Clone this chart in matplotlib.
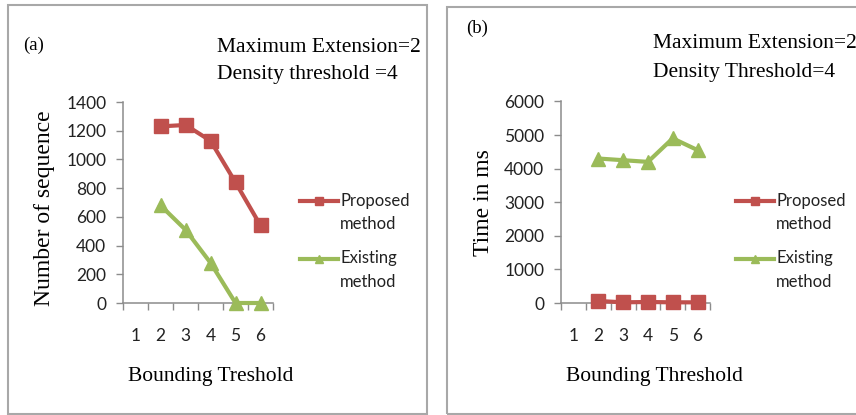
import numpy as np
import matplotlib
matplotlib.use("Agg")
import matplotlib.pyplot as plt
from matplotlib.patches import Rectangle
from matplotlib.legend_handler import HandlerLine2D
from matplotlib.lines import Line2D

# ---------------- data ----------------
categories = ["1", "2", "3", "4", "5", "6"]
seq_proposed = [np.nan, 1230, 1240, 1130, 840, 540]
seq_existing = [np.nan, 680, 510, 280, 0, 0]
time_proposed = [np.nan, 60, 20, 30, 20, 20]
time_existing = [np.nan, 4300, 4250, 4200, 4900, 4550]
yticks_a = [0, 200, 400, 600, 800, 1000, 1200, 1400]
yticks_b = [0, 1000, 2000, 3000, 4000, 5000, 6000]
series_labels = ["Proposed\nmethod", "Existing\nmethod"]

RED = "#C0504D"
GREEN = "#9BBB59"
AXGRAY = "#8C8C8C"
SERIF = ["Liberation Serif", "DejaVu Serif"]
SANS = ["Lato", "DejaVu Sans"]

W, H = 856, 415
fig = plt.figure(figsize=(W / 100, H / 100), dpi=100)


def fx(x):
    return x / W


def fy(y):
    return 1 - y / H


class FirstLineHandler(HandlerLine2D):
    def __init__(self, shift, **kw):
        super().__init__(**kw)
        self.shift = shift

    def create_artists(self, legend, orig_handle, xdescent, ydescent,
                       width, height, fontsize, trans):
        arts = super().create_artists(legend, orig_handle, xdescent, ydescent,
                                      width, height, fontsize, trans)
        for a in arts:
            a.set_ydata(np.asarray(a.get_ydata(), float) + self.shift * fontsize)
        return arts


def style_axes(ax, ymax, yticks):
    x = np.arange(1, len(categories) + 1)
    ax.set_xlim(0.5, len(categories) + 0.5)
    ax.set_ylim(0, ymax)
    ax.set_xticks(x)
    ax.set_xticklabels(categories, fontfamily=SANS, fontsize=12.5, color="#222222")
    ax.set_xticks(np.arange(0.5, len(categories) + 1, 1), minor=True)
    ax.tick_params(axis="x", which="major", length=0, pad=18)
    ax.tick_params(axis="x", which="minor", length=5, width=1, color=AXGRAY, direction="out")
    ax.set_yticks(yticks)
    ax.set_yticklabels([str(v) for v in yticks], fontfamily=SANS, fontsize=12.5, color="#222222")
    ax.tick_params(axis="y", length=5, width=1, color=AXGRAY, direction="out", pad=7)
    for s in ["top", "right"]:
        ax.spines[s].set_visible(False)
    for s in ["left", "bottom"]:
        ax.spines[s].set_color(AXGRAY)
        ax.spines[s].set_linewidth(1.1)
    ax.patch.set_alpha(0)
    return x


def add_legend(ax, x_left, y_top, p_line, e_line):
    leg = ax.legend([p_line, e_line], series_labels, loc="upper left",
                    bbox_to_anchor=(fx(x_left), fy(y_top)),
                    bbox_transform=fig.transFigure, frameon=False,
                    borderpad=0, borderaxespad=0, handlelength=2.3,
                    handletextpad=0.1, labelspacing=1.1, markerscale=0.6,
                    prop={"family": SANS, "size": 12},
                    handler_map={Line2D: FirstLineHandler(0.72)})
    for t in leg.get_texts():
        t.set_linespacing(1.55)
        t.set_color("#222222")
    return leg


# ---------------- panel (a) ----------------
ax_a = fig.add_axes([fx(123), fy(303), 150 / W, 201 / H])
xa = style_axes(ax_a, 1400, yticks_a)
pa, = ax_a.plot(xa, seq_proposed, color=RED, lw=3, marker="s", ms=10,
                clip_on=False, zorder=3)
ea, = ax_a.plot(xa, seq_existing, color=GREEN, lw=3, marker="^", ms=10,
                clip_on=False, zorder=3)
add_legend(ax_a, 300, 193, pa, ea)

# ---------------- panel (b) ----------------
ax_b = fig.add_axes([fx(561), fy(303), 149 / W, 201.6 / H])
xb = style_axes(ax_b, 6000, yticks_b)
pb, = ax_b.plot(xb, time_proposed, color=RED, lw=3, marker="s", ms=10,
                clip_on=False, zorder=3)
eb, = ax_b.plot(xb, time_existing, color=GREEN, lw=3, marker="^", ms=10,
                clip_on=False, zorder=3)
add_legend(ax_b, 736, 193, pb, eb)

# ---------------- texts ----------------
fig.text(fx(23), fy(45), "(a)", family=SERIF, fontsize=13.5, ha="left", va="center")
fig.text(fx(217), fy(47), "Maximum Extension=2", family=SERIF, fontsize=15.5, ha="left", va="center")
fig.text(fx(217), fy(75), "Density threshold =4", family=SERIF, fontsize=15.5, ha="left", va="center")
fig.text(fx(45), fy(208), "Number of sequence", family=SERIF, fontsize=17, rotation=90,
         ha="center", va="center")
fig.text(fx(211), fy(377), "Bounding Treshold", family=SERIF, fontsize=15.5, ha="center", va="center")

fig.text(fx(466), fy(28), "(b)", family=SERIF, fontsize=13.5, ha="left", va="center")
fig.text(fx(653), fy(43), "Maximum Extension=2", family=SERIF, fontsize=15.5, ha="left", va="center")
fig.text(fx(653), fy(72), "Density Threshold=4", family=SERIF, fontsize=15.5, ha="left", va="center")
fig.text(fx(483), fy(203), "Time in ms", family=SERIF, fontsize=17, rotation=90,
         ha="center", va="center")
fig.text(fx(654), fy(377), "Bounding Threshold", family=SERIF, fontsize=15.5, ha="center", va="center")

# ---------------- panel borders ----------------
fig.patches.append(Rectangle((fx(8), fy(414)), (427 - 8) / W, (414 - 5) / H,
                             transform=fig.transFigure, fill=False,
                             edgecolor="#A8A8A8", lw=1.5))
fig.patches.append(Rectangle((fx(447), fy(414)), (870 - 447) / W, (414 - 7) / H,
                             transform=fig.transFigure, fill=False,
                             edgecolor="#A8A8A8", lw=1.5))

fig.savefig("out.png", dpi=100)
